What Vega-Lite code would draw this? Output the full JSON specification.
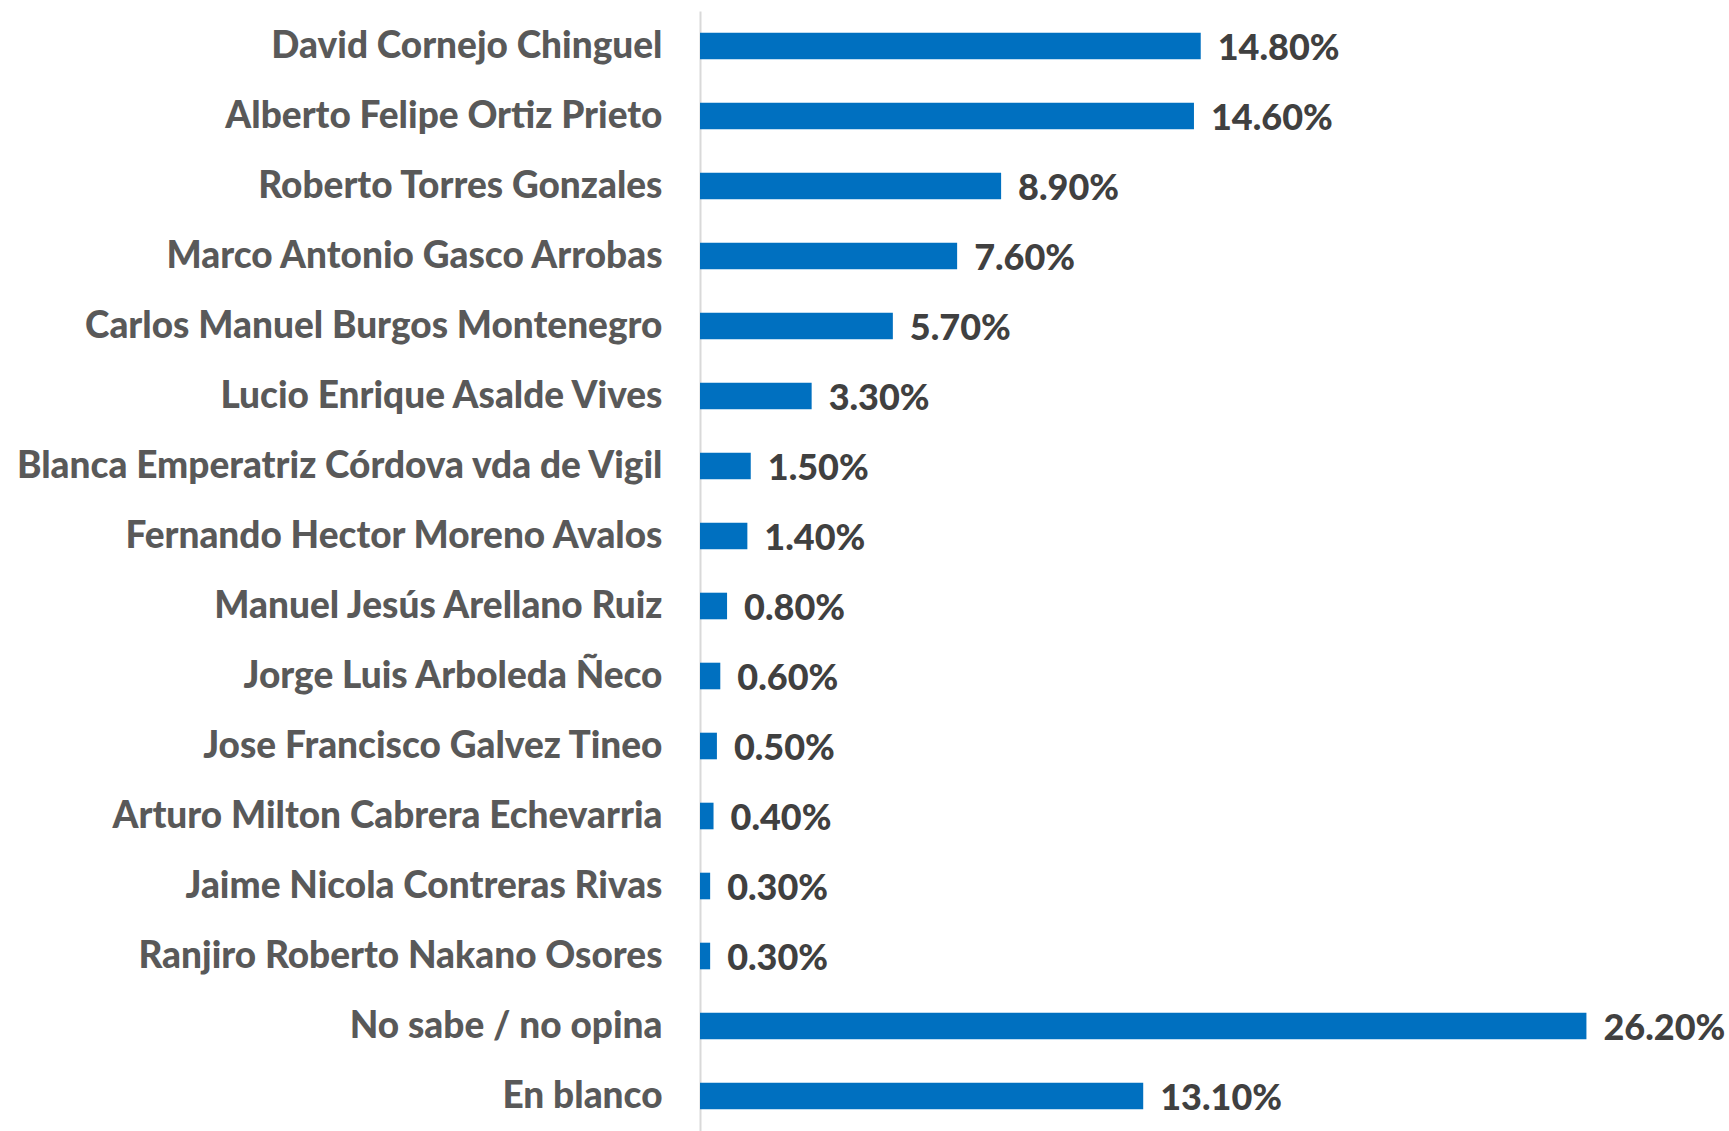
{
  "$schema": "https://vega.github.io/schema/vega-lite/v6.json",
  "autosize": "none",
  "width": 1015,
  "height": 1120,
  "padding": {"left": 700, "top": 11, "right": 14, "bottom": 0},
  "background": "white",
  "config": {"view": {"stroke": null}},
  "data": {
    "values": [
      {"name": "David Cornejo Chinguel", "value": 0.148},
      {"name": "Alberto Felipe Ortiz Prieto", "value": 0.146},
      {"name": "Roberto Torres Gonzales", "value": 0.089},
      {"name": "Marco Antonio Gasco Arrobas", "value": 0.076},
      {"name": "Carlos Manuel Burgos Montenegro", "value": 0.057},
      {"name": "Lucio Enrique Asalde Vives", "value": 0.033},
      {"name": "Blanca Emperatriz Córdova vda de Vigil", "value": 0.015},
      {"name": "Fernando Hector Moreno Avalos", "value": 0.014},
      {"name": "Manuel Jesús Arellano Ruiz", "value": 0.008},
      {"name": "Jorge Luis Arboleda Ñeco", "value": 0.006},
      {"name": "Jose Francisco Galvez Tineo", "value": 0.005},
      {"name": "Arturo Milton Cabrera Echevarria", "value": 0.004},
      {"name": "Jaime Nicola Contreras Rivas", "value": 0.003},
      {"name": "Ranjiro Roberto Nakano Osores", "value": 0.003},
      {"name": "No sabe / no opina", "value": 0.262},
      {"name": "En blanco", "value": 0.131}
    ]
  },
  "encoding": {
    "y": {
      "field": "name",
      "type": "nominal",
      "sort": null,
      "scale": {"paddingInner": 0.62, "paddingOuter": 0.31},
      "axis": {
        "title": null,
        "ticks": false,
        "grid": false,
        "domainColor": "#D9D9D9",
        "domainWidth": 2,
        "labelFont": "Lato",
        "labelFontSize": 37,
        "labelFontWeight": 900,
        "labelColor": "#595959",
        "labelPadding": 38,
        "labelLimit": 0,
        "labelOffset": 1
      }
    },
    "x": {
      "field": "value",
      "type": "quantitative",
      "scale": {"domain": [0, 0.3]},
      "axis": null
    }
  },
  "layer": [
    {"mark": {"type": "bar", "color": "#0070C0"}},
    {
      "mark": {
        "type": "text",
        "align": "left",
        "baseline": "middle",
        "dx": 17,
        "dy": 3,
        "font": "Lato",
        "fontSize": 36,
        "fontWeight": 900,
        "color": "#404040"
      },
      "encoding": {
        "text": {"field": "value", "type": "quantitative", "format": ".2%"}
      }
    }
  ]
}
